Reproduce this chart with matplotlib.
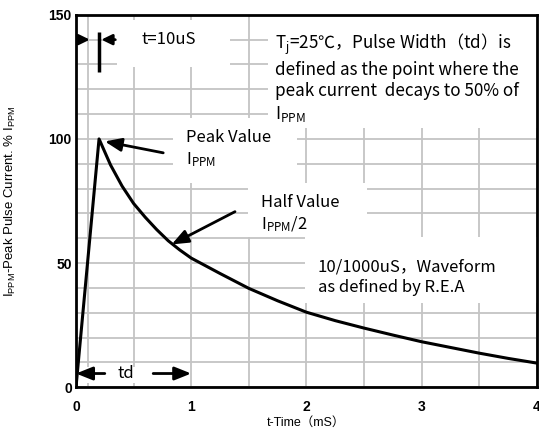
import matplotlib
matplotlib.use('Agg')
import matplotlib.pyplot as plt
from matplotlib.patches import Rectangle

# 10/1000us waveform (t in ms, % of peak current)
time_ms = [0.0, 0.2, 0.3, 0.4, 0.5, 0.6, 0.7, 0.8, 0.9, 1.0,
           1.25, 1.5, 1.75, 2.0, 2.25, 2.5, 2.75, 3.0, 3.25, 3.5, 3.75, 4.0]
current_pct = [0, 100, 89.5, 81, 74, 68.5, 63.5, 59, 55.3, 52,
               45.8, 39.8, 34.8, 30.2, 26.8, 23.8, 21, 18.3, 16, 13.7, 11.6, 9.7]

x_ticks = [0, 1, 2, 3, 4]
y_ticks = [0, 50, 100, 150]
x_grid = [0.1, 0.5, 1.5, 2.5, 3.5]
y_grid = [10, 20, 30, 40, 60, 70, 80, 90, 110, 120, 130, 140]

txt_font = 'Noto Sans CJK SC'
tick_font = 'Liberation Sans'

fig = plt.figure(figsize=(5.39, 4.36), dpi=100)
ax = fig.add_axes([0.141, 0.112, 0.855, 0.854])

ax.set_xlim(0, 4)
ax.set_ylim(0, 150)
ax.set_xticks(x_ticks)
ax.set_yticks(y_ticks)
ax.set_xticks(x_grid, minor=True)
ax.set_yticks(y_grid, minor=True)
ax.set_axisbelow(True)
ax.grid(which='both', color='#c4c4c4', lw=1.3)
ax.tick_params(which='both', length=0)
ax.tick_params(axis='x', pad=9)
ax.tick_params(axis='y', pad=3)
for lab in ax.get_xticklabels() + ax.get_yticklabels():
    lab.set_fontfamily(tick_font)
    lab.set_fontweight('bold')
    lab.set_fontsize(10)
for sp in ax.spines.values():
    sp.set_linewidth(2)

# white areas behind the notes (grid is blanked there)
for (x0, y0, w, h) in [(1.666, 104.5, 2.4, 46), (0.84, 82.3, 1.08, 26.2),
                       (1.49, 60.5, 1.04, 21.8), (1.99, 34, 2.1, 26.5),
                       (0.36, 129, 0.98, 19), (0.02, 1.5, 0.93, 6.5)]:
    ax.add_patch(Rectangle((x0, y0), w, h, fc='white', ec='none', zorder=1))

ax.plot(time_ms, current_pct, color='black', lw=2.2, zorder=3,
        solid_joinstyle='round')

arrow = dict(arrowstyle='-|>,head_length=0.5,head_width=0.2', color='black',
             lw=2, shrinkA=0, shrinkB=0, mutation_scale=20)
small = dict(arrowstyle='-|>,head_length=0.45,head_width=0.22', color='black',
             lw=2, shrinkA=0, shrinkB=0, mutation_scale=14)

# t=10uS marker
ax.vlines(time_ms[1], 127, 143, color='black', lw=2.5, zorder=4)
ax.annotate('', xy=(0.12, 140), xytext=(0.03, 140), arrowprops=small, zorder=4)
ax.annotate('', xy=(0.22, 140), xytext=(0.34, 140), arrowprops=small, zorder=4)
ax.text(0.57, 140, 't=10uS', family=txt_font, fontsize=12, va='center', zorder=4)

# td marker
ax.annotate('', xy=(0.0, 5.5), xytext=(0.25, 5.5), arrowprops=arrow, zorder=4)
ax.annotate('', xy=(1.0, 5.5), xytext=(0.67, 5.5), arrowprops=arrow, zorder=4)
ax.text(0.43, 5.5, 'td', family=txt_font, fontsize=12, ha='center', va='center', zorder=4)

ax.annotate('', xy=(0.25, 99), xytext=(0.757, 94.4), arrowprops=arrow, zorder=4)
ax.text(0.955, 104, 'Peak Value\n$\\mathregular{I_{PPM}}$', family=txt_font,
        fontsize=12, va='top', linespacing=1.3, zorder=4)

ax.annotate('', xy=(0.83, 57.5), xytext=(1.38, 70.7), arrowprops=arrow, zorder=4)
ax.text(1.61, 78, 'Half Value\n$\\mathregular{I_{PPM}}$/2', family=txt_font,
        fontsize=12, va='top', linespacing=1.3, zorder=4)

ax.text(1.73, 143, '$\\mathregular{T_j}$=25℃，Pulse Width（td）is\n'
        'defined as the point where the\n'
        'peak current  decays to 50% of\n'
        '$\\mathregular{I_{PPM}}$', family=txt_font, fontsize=12.3, va='top',
        linespacing=1.25, zorder=4)

ax.text(2.1, 52, '10/1000uS，Waveform\nas defined by R.E.A', family=txt_font,
        fontsize=12, va='top', linespacing=1.3, zorder=4)

ax.set_xlabel('t-Time（mS）', family=[tick_font, txt_font], fontsize=9)
ax.xaxis.set_label_coords(0.5, -0.08)
ax.xaxis.label.set_va('top')
ax.set_ylabel('$\\mathregular{I_{PPM}}$-Peak Pulse Current. % $\\mathregular{I_{PPM}}$',
              family=tick_font, fontsize=9.5)
ax.yaxis.set_label_coords(-0.125, 0.5)

fig.savefig('out.png', dpi=100)
